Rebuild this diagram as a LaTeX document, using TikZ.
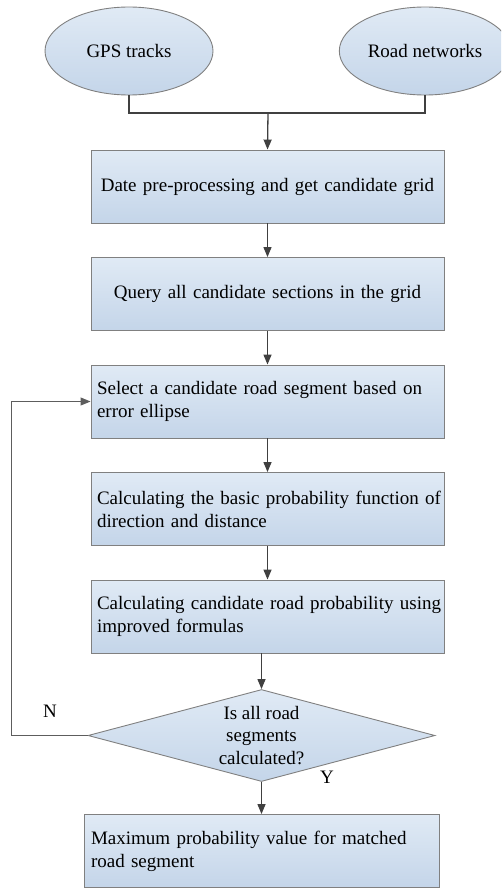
\documentclass[tikz,border=0pt]{standalone}
\usepackage{fontspec}
\setmainfont{Liberation Serif}
\usepackage{tikz}
\usetikzlibrary{ % tikz packages
    positioning,shapes.geometric,
    arrows.meta
}
\definecolor{boxTop}{RGB}{224,234,245}
\definecolor{boxBottom}{RGB}{196,213,233}
\definecolor{boxLine}{RGB}{128,128,128}
\definecolor{flowLine}{RGB}{64,64,64}
\tikzset{
    every node/.style={font=\rmfamily\fontsize{19}{23}\selectfont},
    source/.style={ellipse,draw=boxLine,line width=0.9pt,
        top color=boxTop,bottom color=boxBottom,
        minimum width=168pt,minimum height=88pt},
    process/.style={rectangle,draw=boxLine,line width=0.9pt,
        top color=boxTop,bottom color=boxBottom,
        minimum width=353pt,minimum height=73pt,
        inner xsep=6pt,text width=341pt,align=center},
    processtwo/.style={process,align=left},
    decision/.style={diamond,aspect=3.77,draw=boxLine,line width=0.9pt,
        top color=boxTop,bottom color=boxBottom,
        minimum width=347pt,minimum height=92pt,inner sep=0pt,
        align=center,font=\rmfamily\fontsize{19}{22.5}\selectfont},
    flow/.style={draw=flowLine,line width=1.3pt},
    back/.style={draw=flowLine!85,line width=1pt}
}
\tikzset{>={Triangle[length=10pt,width=8pt]}}
\newcommand{\spreadline}[1]{\makebox[\linewidth][s]{#1}}

\begin{document}
\begin{tikzpicture}[x=1pt,y=-1pt,node distance=107.5pt,on grid]
        \clip (0,0) rectangle (501,888);

        \node[source] (gps) at (129,51) {GPS tracks};
        \node[source] (road) at (425,51) {Road networks};

        \node[process] (b1) at (267.5,186.5) {Date pre-processing and get candidate grid};
        \node[process] (b2) [below=of b1] {Query all candidate sections in the grid};
        \node[processtwo] (b3) [below=of b2] {\spreadline{Select a candidate road segment based on}\\error ellipse};
        \node[processtwo] (b4) [below=of b3] {\spreadline{Calculating the basic probability function of}\\direction and distance};
        \node[processtwo] (b5) [below=of b4] {\spreadline{Calculating candidate road probability using}\\improved formulas};

        \node[decision] (dec) [below left=119pt and 6pt of b5] {Is all road\\segments\\calculated?};

        \node[processtwo,minimum width=355pt] (b6) [below=115.5pt of dec] {\spreadline{Maximum probability value for matched}\\road segment};

        \node (lblN) at (50,711) {N};
        \node (lblY) at (327,777) {Y};

        \coordinate (join) at (268,113);
        \coordinate (loop) at (11,401.5);

        \draw[flow] (gps.south) |- (join) -| (road.south);
        \draw[flow,->] (join) -- (b1.north);
        \draw[flow,->] (b1.south) -- (b2.north);
        \draw[flow,->] (b2.south) -- (b3.north);
        \draw[flow,->] (b3.south) -- (b4.north);
        \draw[flow,->] (b4.south) -- (b5.north);
        \draw[flow,->] (b5.south -| dec.north) -- (dec.north);
        \draw[flow,->] (dec.south) -- (b6.north);
        \draw[back,->] (dec.west) -| (loop) -- (b3.west);
    \end{tikzpicture}
\end{document}
